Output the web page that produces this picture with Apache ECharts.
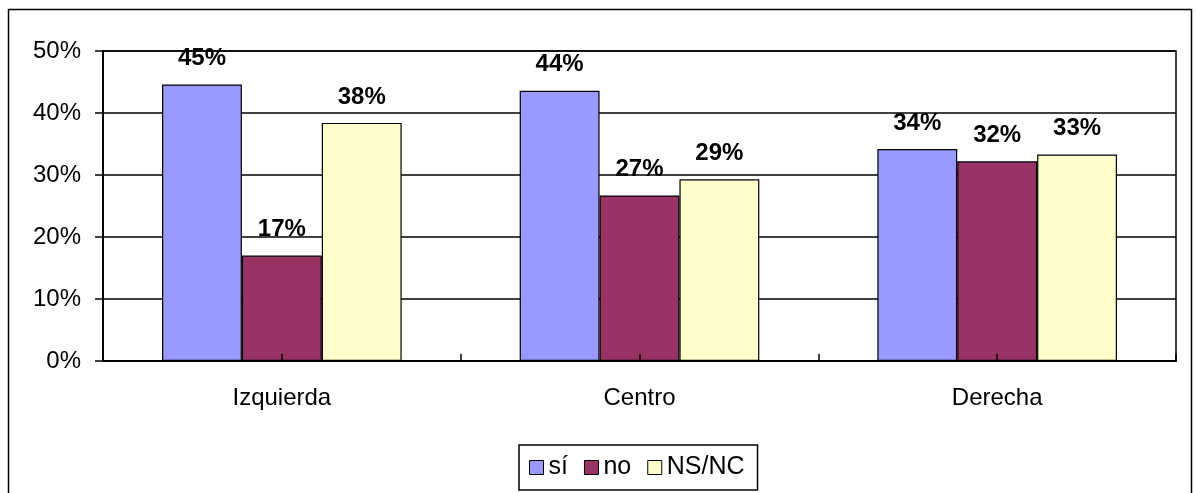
<!DOCTYPE html>
<html>
<head>
<meta charset="utf-8">
<script src="https://cdn.jsdelivr.net/npm/echarts@6/dist/echarts.min.js"></script>
<style>
  html, body { margin: 0; padding: 0; background: #fff; }
  #main { width: 1196px; height: 493px; }
</style>
</head>
<body>
<div id="main"></div>
<script>
// categorias y valores (%)
var categorias = ['Izquierda', 'Centro', 'Derecha'];
var serieSi = [44.6, 43.6, 34.2];
var serieNo = [17.0, 26.7, 32.2];
var serieNsNc = [38.4, 29.3, 33.3];
var nombres = ['sí', 'no', 'NS/NC'];
var colores = ['#9999ff', '#993366', '#ffffcc'];

var fuente = 'Liberation Sans, Arial, sans-serif';

function barra(nombre, datos, color) {
    return {
        name: nombre,
        type: 'bar',
        data: datos,
        barGap: '0%',
        barCategoryGap: '33%',
        itemStyle: { color: color, borderColor: '#000', borderWidth: 1.2 },
        label: {
            show: true,
            position: 'top',
            distance: 14,
            fontFamily: fuente,
            fontWeight: 'bold',
            fontSize: 24,
            color: '#000',
            formatter: function (p) { return Math.round(p.value) + '%'; }
        }
    };
}

var chart = echarts.init(document.getElementById('main'));
chart.setOption({
    animation: false,
    color: colores,
    textStyle: { fontFamily: fuente },
    graphic: [{
        type: 'rect',
        shape: { x: 8.5, y: 9.5, width: 1183, height: 500 },
        style: { fill: 'none', stroke: '#000', lineWidth: 1.5 },
        silent: true
    }],
    grid: {
        left: 103, right: 20, top: 51, bottom: 132,
        show: true, borderColor: '#000', borderWidth: 1.5
    },
    legend: {
        data: nombres,
        bottom: 3,
        left: 519,
        itemWidth: 14,
        itemHeight: 14,
        itemGap: 16,
        padding: [10, 13, 10, 10],
        borderColor: '#000',
        borderWidth: 1.5,
        icon: 'rect',
        itemStyle: { borderColor: '#000', borderWidth: 1 },
        textStyle: { fontFamily: fuente, fontSize: 25, color: '#000' }
    },
    xAxis: [{
        type: 'category',
        data: categorias,
        axisLine: { lineStyle: { color: '#000', width: 2 } },
        axisTick: { show: true, inside: true, length: 7, lineStyle: { color: '#000', width: 1.5 } },
        axisLabel: { fontFamily: fuente, fontSize: 24, color: '#000', margin: 25 }
    }, {
        type: 'category',
        data: categorias,
        position: 'bottom',
        z: 5,
        axisLine: { show: false },
        axisTick: { show: true, inside: true, alignWithLabel: true, length: 7, lineStyle: { color: '#000', width: 1.5 } },
        axisLabel: { show: false }
    }],
    yAxis: {
        type: 'value',
        min: 0, max: 50, interval: 10,
        axisLine: { show: true, lineStyle: { color: '#000', width: 2 } },
        axisTick: { show: true, length: 8, lineStyle: { color: '#000', width: 1.5 } },
        splitLine: { lineStyle: { color: '#000', width: 1.5 } },
        axisLabel: { fontFamily: fuente, fontSize: 24, color: '#000', margin: 22, formatter: '{value}%' }
    },
    series: [
        barra(nombres[0], serieSi, colores[0]),
        barra(nombres[1], serieNo, colores[1]),
        barra(nombres[2], serieNsNc, colores[2])
    ]
});
</script>
</body>
</html>
